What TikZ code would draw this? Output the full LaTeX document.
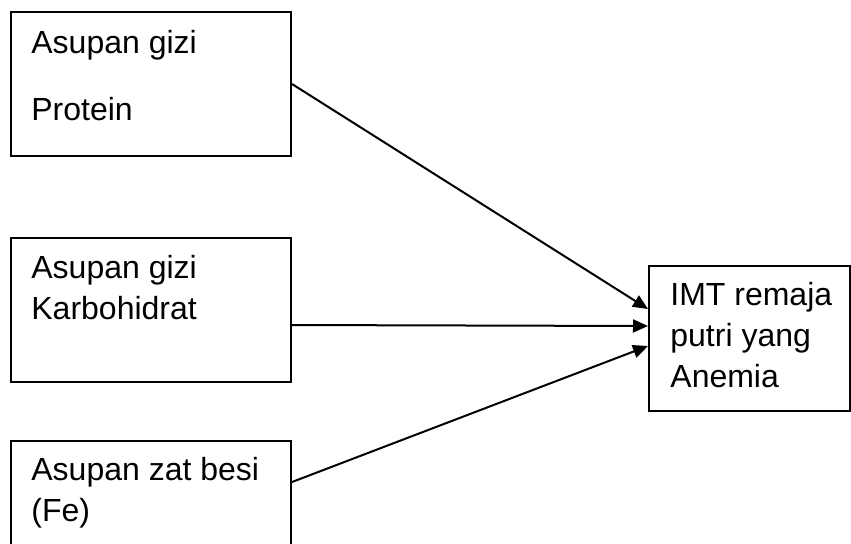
\documentclass[tikz,border=0pt]{standalone}
\usepackage{fontspec}
\setmainfont{Liberation Sans}
\usetikzlibrary{arrows.meta}
\tikzset{
  kotak/.style={draw, line width=1pt, rectangle, anchor=north west, inner sep=0pt},
  teks/.style={anchor=north west, inner sep=0pt, align=left, font=\fontsize{16}{20.5}\selectfont},
  panah/.style={line width=1pt, -{Triangle[length=7.5pt,width=6.5pt]}}
}
\begin{document}
\begin{tikzpicture}[x=0.5pt,y=-0.5pt]
\useasboundingbox (0,0) rectangle (851,543);
\clip (0,0) rectangle (851,543);
% kotak variabel
\node[kotak, minimum width=140pt, minimum height=72pt] (protein) at (10,11) {};
\node[kotak, minimum width=140pt, minimum height=72pt] (karbo) at (10,237) {};
\node[kotak, minimum width=140pt, minimum height=72pt] (besi) at (10,440) {};
\node[kotak, minimum width=100.5pt, minimum height=72.5pt] (imt) at (648,265) {};
% teks
\node[teks] (tprotein) at ([shift={(21,19)}]protein.north west) {Asupan gizi\\[13pt]Protein};
\node[teks] (tkarbo) at ([shift={(21,18)}]karbo.north west) {Asupan gizi\\Karbohidrat};
\node[teks] (tbesi) at ([shift={(21,17)}]besi.north west) {Asupan zat besi\\(Fe)};
\node[teks] (timt) at ([shift={(22,17)}]imt.north west) {IMT remaja\\putri yang\\Anemia};
% panah
\draw[panah] (protein.east) -- ([yshift=14.75pt]imt.west);
\draw[panah] ([yshift=-7.5pt]karbo.east) -- ([yshift=6.25pt]imt.west);
\draw[panah] ([yshift=-21pt]besi.north east) -- ([yshift=-3.75pt]imt.west);
\end{tikzpicture}
\end{document}
